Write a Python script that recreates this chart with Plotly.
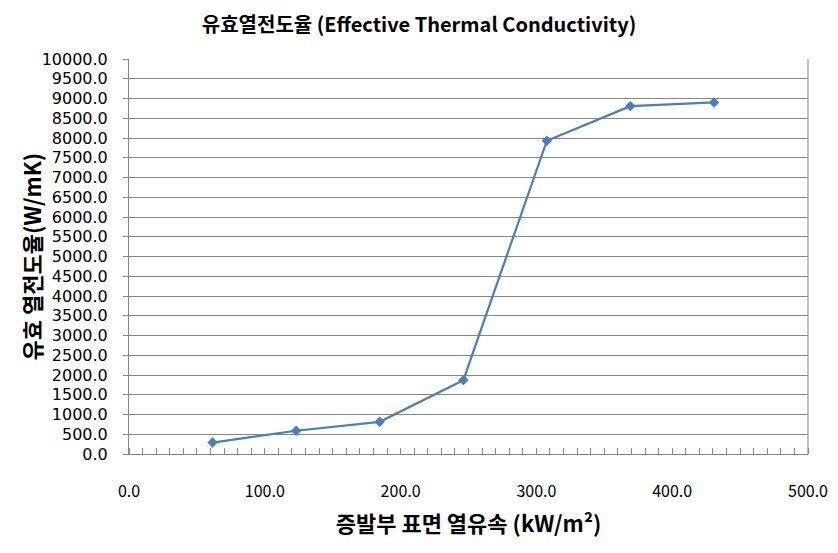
import plotly.graph_objects as go

heat_flux = [61.5, 123.1, 184.6, 246.2, 307.7, 369.2, 430.8]
conductivity = [290, 588, 815, 1870, 7930, 8807, 8900]

title_text = "<b>유효열전도율 (Effective Thermal Conductivity)</b>"
x_title = "<b>증발부 표면 열유속 (kW/m²)</b>"
y_title = "<b>유효 열전도율(W/mK)</b>"

grid_col = "#868686"
line_col = "#4A7EBB"

fig = go.Figure()
fig.add_trace(go.Scatter(
    x=heat_flux, y=conductivity, mode="lines+markers",
    line=dict(color=line_col, width=2.2),
    marker=dict(symbol="diamond", size=8, color=line_col),
    showlegend=False,
))

fig.update_layout(
    width=838, height=553,
    margin=dict(l=129, r=30, t=59, b=99),
    paper_bgcolor="white", plot_bgcolor="white",
    font=dict(family="Noto Sans CJK KR", color="black"),
    title=dict(text=title_text, x=0.5, xanchor="center", xref="container",
               yref="container", y=1 - 25 / 553, yanchor="middle", automargin=False,
               font=dict(size=20, family="Noto Sans CJK KR", color="black")),
    xaxis=dict(
        range=[0, 500], dtick=100, tickformat=".1f", automargin=False,
        showgrid=False, zeroline=False,
        showline=True, linecolor=grid_col, linewidth=1,
        ticks="outside", ticklen=23, tickcolor="rgba(0,0,0,0)",
        tickfont=dict(size=16, family="Noto Sans CJK KR", color="black"),
        minor=dict(dtick=10, ticks="inside", ticklen=6, tickcolor=grid_col, showgrid=False),
        title=dict(text=x_title, font=dict(size=22, family="Noto Sans CJK KR"), standoff=15),
    ),
    yaxis=dict(
        range=[0, 10000], dtick=500, tickformat=".1f", automargin=False,
        showgrid=True, gridcolor=grid_col, gridwidth=1, zeroline=False,
        showline=True, linecolor=grid_col, linewidth=1,
        ticks="outside", ticklen=5, tickcolor=grid_col,
        ticklabelstandoff=12,
        tickfont=dict(size=16, family="DejaVu Sans", color="black"),
    ),
)
fig.add_annotation(text=y_title, xref="paper", yref="paper", x=(30 - 129) / 679, y=0.5,
                   xanchor="center", yanchor="middle", textangle=-90, showarrow=False,
                   font=dict(size=22, family="Noto Sans CJK KR", color="black"))
fig.add_shape(type="line", xref="paper", yref="paper", x0=1, x1=1, y0=0, y1=1,
              line=dict(color=grid_col, width=1))

fig.write_html("out.html", config={"displayModeBar": False},
               post_script="document.body.style.margin='0';")
